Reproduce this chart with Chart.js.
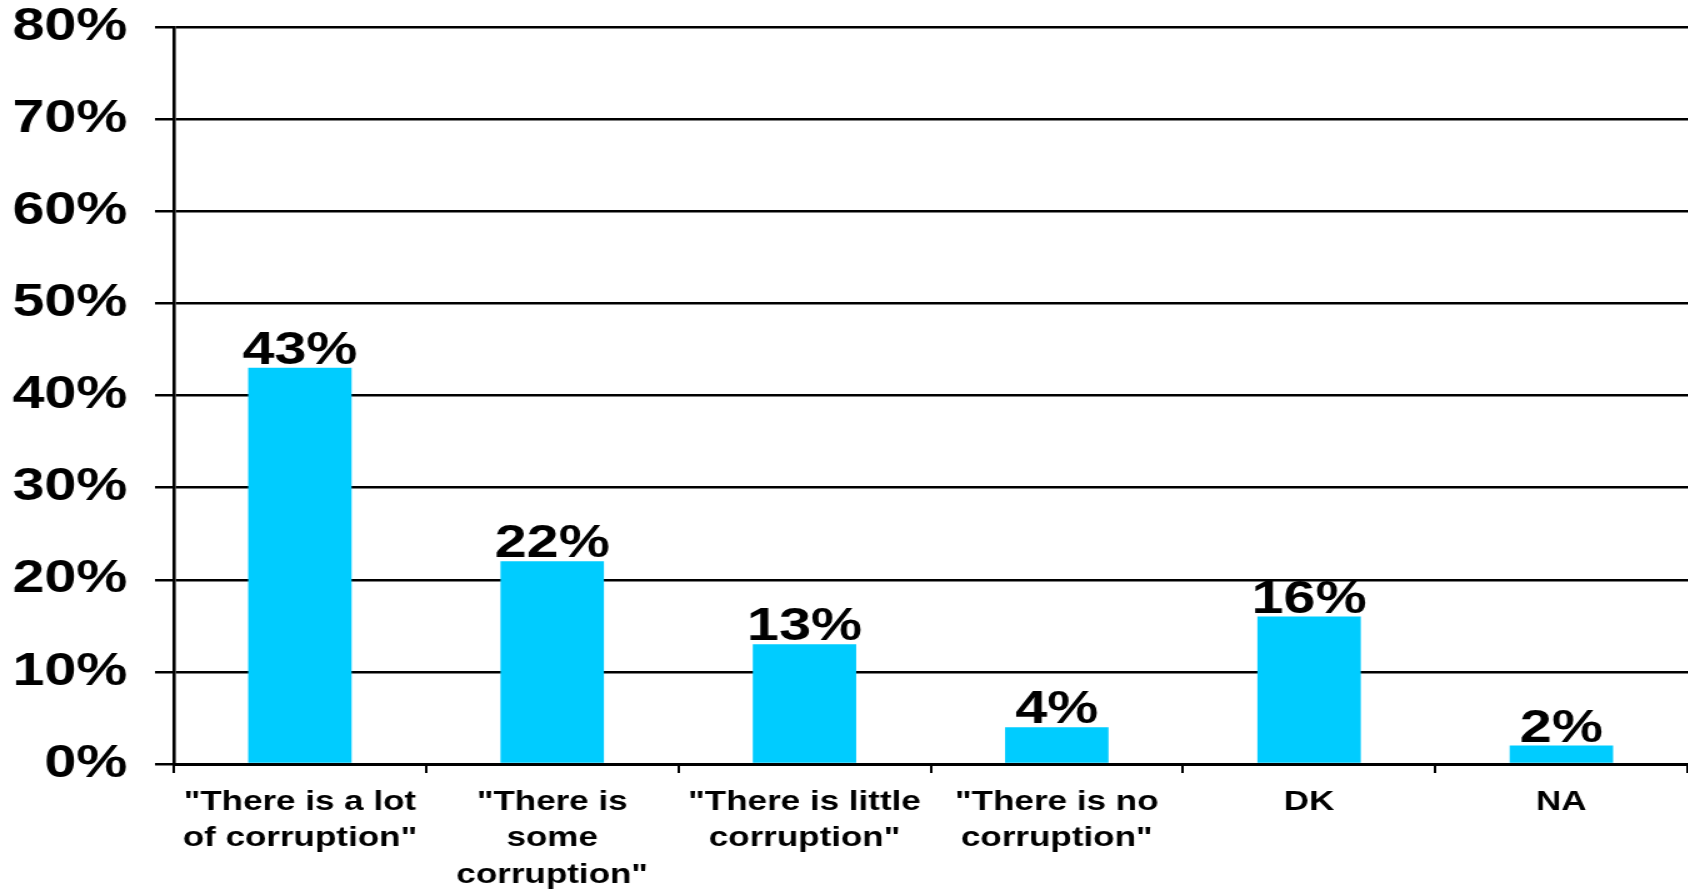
<!DOCTYPE html>
<html>
<head>
<meta charset="utf-8">
<script src="https://cdn.jsdelivr.net/npm/chart.js@4/dist/chart.umd.min.js"></script>
<style>
  html, body { margin: 0; padding: 0; background: #ffffff; overflow: hidden; }
  #wrap { width: 1350px; height: 891px; transform: scaleX(1.25); transform-origin: 0 0; }
  canvas { display: block; }
</style>
</head>
<body>
<div id="wrap"><canvas id="c" width="1350" height="891" style="width:1350px;height:891px"></canvas></div>
<script>
const categories = [
  ['"There is a lot', 'of corruption"'],
  ['"There is', 'some', 'corruption"'],
  ['"There is little', 'corruption"'],
  ['"There is no', 'corruption"'],
  'DK',
  'NA'
];
const shares = [43, 22, 13, 4, 16, 2];
const yTicks = [0, 10, 20, 30, 40, 50, 60, 70, 80];

const FONT = '"Liberation Sans", Arial, Helvetica, sans-serif';

const valueLabels = {
  id: 'valueLabels',
  afterDatasetsDraw(chart) {
    const ctx = chart.ctx;
    const meta = chart.getDatasetMeta(0);
    ctx.save();
    ctx.font = 'bold 46px ' + FONT;
    ctx.fillStyle = '#000000';
    ctx.textAlign = 'center';
    ctx.textBaseline = 'alphabetic';
    meta.data.forEach((bar, i) => {
      ctx.fillText(shares[i] + '%', bar.x, bar.y - 4);
    });
    ctx.restore();
  }
};

new Chart(document.getElementById('c'), {
  type: 'bar',
  data: {
    labels: categories,
    datasets: [{
      data: shares,
      backgroundColor: '#00CCFF',
      borderWidth: 0,
      barPercentage: 0.41,
      categoryPercentage: 1.0
    }]
  },
  options: {
    responsive: false,
    maintainAspectRatio: false,
    devicePixelRatio: 1,
    animation: false,
    layout: { padding: { left: 10, right: 0, top: 0, bottom: 0 } },
    plugins: { legend: { display: false }, tooltip: { enabled: false } },
    scales: {
      x: {
        offset: true,
        afterFit(scale) { scale.paddingLeft = 0; scale.paddingRight = 0; scale.height = 127; },
        grid: { display: true, drawOnChartArea: false, drawTicks: true, tickLength: 9, color: '#000000', lineWidth: 2, offset: true },
        border: { display: true, color: '#000000', width: 3 },
        ticks: {
          color: '#000000',
          padding: 11,
          maxRotation: 0,
          autoSkip: false,
          font: { family: FONT, size: 28, weight: 'bold', lineHeight: 1.3 }
        }
      },
      y: {
        min: 0,
        max: 80,
        afterBuildTicks(scale) { scale.ticks = yTicks.map(v => ({ value: v })); },
        afterFit(scale) { scale.width = 129; scale.paddingTop = 27; scale.paddingBottom = 0; },
        grid: { color: '#000000', lineWidth: 2.5, drawTicks: true, tickLength: 15 },
        border: { display: true, color: '#000000', width: 2.6 },
        ticks: {
          color: '#000000',
          padding: 22,
          font: { family: FONT, size: 46, weight: 'bold' },
          callback: (v) => v + '%'
        }
      }
    }
  },
  plugins: [valueLabels]
});
</script>
</body>
</html>
